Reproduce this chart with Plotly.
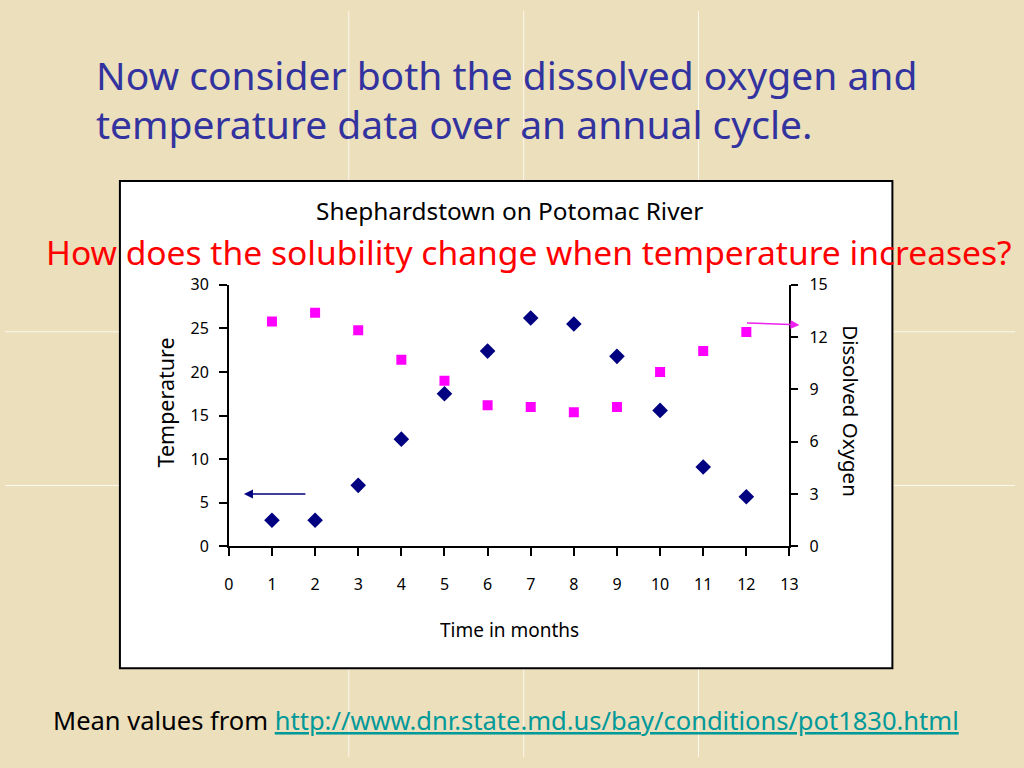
import plotly.graph_objects as go

# ---- data ----
months = [1, 2, 3, 4, 5, 6, 7, 8, 9, 10, 11, 12]
temperature = [3.0, 3.0, 7.0, 12.3, 17.5, 22.4, 26.2, 25.5, 21.8, 15.6, 9.1, 5.7]
dissolved_oxygen = [12.9, 13.4, 12.4, 10.7, 9.5, 8.1, 8.0, 7.7, 8.0, 10.0, 11.2, 12.3]
x_ticks = list(range(0, 14))
temp_ticks = [0, 5, 10, 15, 20, 25, 30]
do_ticks = [0, 3, 6, 9, 12, 15]

W, H = 1024, 768
FONT = "Noto Sans"
BG = "#ECDFBC"

# the capture maps page pixels slightly differently from the target pixels;
# compensate so elements land where the reference has them
SX, AX = 0.987, 5.0
SY, AY = 0.973, 9.7


def px(x):
    return ((x - AX) / SX) / W


def py(y):
    return 1 - ((y - AY) / SY) / H


fig = go.Figure()

fig.add_trace(go.Scatter(
    x=months, y=temperature, mode="markers", name="Temperature",
    marker=dict(symbol="diamond", size=12, color="#000080"),
    xaxis="x", yaxis="y", showlegend=False,
))
fig.add_trace(go.Scatter(
    x=months, y=dissolved_oxygen, mode="markers", name="Dissolved Oxygen",
    marker=dict(symbol="square", size=10, color="#FF00FF"),
    xaxis="x", yaxis="y2", showlegend=False,
))

shapes = []
# faint tile seams of the parchment background
for xv in [349, 524, 699]:
    shapes.append(dict(type="line", xref="paper", yref="paper",
                       x0=px(xv), x1=px(xv), y0=0, y1=1,
                       line=dict(color="rgba(255,255,255,0.75)", width=1), layer="below"))
for yv in [331, 485]:
    shapes.append(dict(type="line", xref="paper", yref="paper",
                       x0=0, x1=1, y0=py(yv), y1=py(yv),
                       line=dict(color="rgba(255,255,255,0.75)", width=1), layer="below"))
# white chart box
shapes.append(dict(type="rect", xref="paper", yref="paper",
                   x0=px(120), x1=px(893), y0=py(668), y1=py(180),
                   fillcolor="white", line=dict(color="black", width=2), layer="below"))

annotations = [
    dict(text="Now consider both the dissolved oxygen and", x=px(94), y=py(73),
         xanchor="left", yanchor="middle", font=dict(family=FONT, size=39, color="#33339F")),
    dict(text="temperature data over an annual cycle.", x=px(94), y=py(122),
         xanchor="left", yanchor="middle", font=dict(family=FONT, size=39, color="#33339F")),
    dict(text="Shephardstown on Potomac River", x=px(510), y=py(210),
         xanchor="center", yanchor="middle", font=dict(family=FONT, size=24.4, color="black")),
    dict(text="How does the solubility change when temperature increases?", x=px(529.5), y=py(251),
         xanchor="center", yanchor="middle", font=dict(family=FONT, size=33.6, color="#FF0000")),
    dict(text="Temperature", x=px(166), y=py(402), textangle=-90,
         xanchor="center", yanchor="middle", font=dict(family=FONT, size=21.5, color="black")),
    dict(text="Dissolved Oxygen", x=px(852), y=py(411), textangle=90,
         xanchor="center", yanchor="middle", font=dict(family=FONT, size=20.5, color="black")),
    dict(text="Time in months", x=px(510), y=py(630),
         xanchor="center", yanchor="middle", font=dict(family=FONT, size=19, color="black")),
    dict(text="Mean values from <span style='color:#009999'><u>http://www.dnr.state.md.us/bay/conditions/pot1830.html</u></span>",
         x=px(506), y=py(720), xanchor="center", yanchor="middle",
         font=dict(family=FONT, size=25.5, color="black")),
]
for a in annotations:
    a.update(xref="paper", yref="paper", showarrow=False)

# arrows pointing to the relevant axes
annotations.append(dict(x=0.35, y=6.0, ax=1.81, ay=6.0, xref="x", yref="y", axref="x", ayref="y",
                        text="", showarrow=True, arrowhead=2, arrowsize=1.2, arrowwidth=1.5,
                        arrowcolor="#000080"))
annotations.append(dict(x=13.23, y=12.7, ax=11.98, ay=12.82, xref="x", yref="y2", axref="x", ayref="y2",
                        text="", showarrow=True, arrowhead=2, arrowsize=1.2, arrowwidth=1.5,
                        arrowcolor="#EE22EE"))

tickfont = dict(family=FONT, size=16, color="black")

fig.update_layout(
    width=W, height=H,
    margin=dict(l=0, r=0, t=0, b=0),
    paper_bgcolor=BG, plot_bgcolor="white",
    shapes=shapes, annotations=annotations,
    xaxis=dict(domain=[px(229), px(790)], range=[0, 13], tickvals=x_ticks,
               ticks="outside", ticklen=8, tickcolor="black", tickwidth=1.5,
               showline=True, linecolor="black", linewidth=1.5,
               showgrid=False, zeroline=False, tickfont=tickfont,
               ticklabelstandoff=15, anchor="y"),
    yaxis=dict(domain=[py(546), py(284)], range=[0, 30], tickvals=temp_ticks,
               ticks="outside", ticklen=8, tickcolor="black", tickwidth=1.5,
               showline=True, linecolor="black", linewidth=1.5,
               showgrid=False, zeroline=False, tickfont=tickfont,
               ticklabelstandoff=7, anchor="x"),
    yaxis2=dict(overlaying="y", side="right", range=[0, 15], tickvals=do_ticks,
                ticks="outside", ticklen=7, tickcolor="black", tickwidth=1.5,
                showline=True, linecolor="black", linewidth=1.5,
                showgrid=False, zeroline=False, tickfont=tickfont,
                ticklabelstandoff=8, anchor="x"),
    yaxis3=dict(overlaying="y", side="right", range=[0, 15], tickvals=do_ticks,
                ticks="inside", ticklen=7, tickcolor="black", tickwidth=1.5,
                showline=False, showticklabels=False,
                showgrid=False, zeroline=False, anchor="x"),
    showlegend=False,
)

post = ("document.documentElement.style.background='%s';"
        "document.body.style.background='%s';"
        "document.body.style.margin='0';"
        "document.body.style.overflow='hidden';") % (BG, BG)
fig.write_html("out.html", config={"displayModeBar": False}, post_script=post)
